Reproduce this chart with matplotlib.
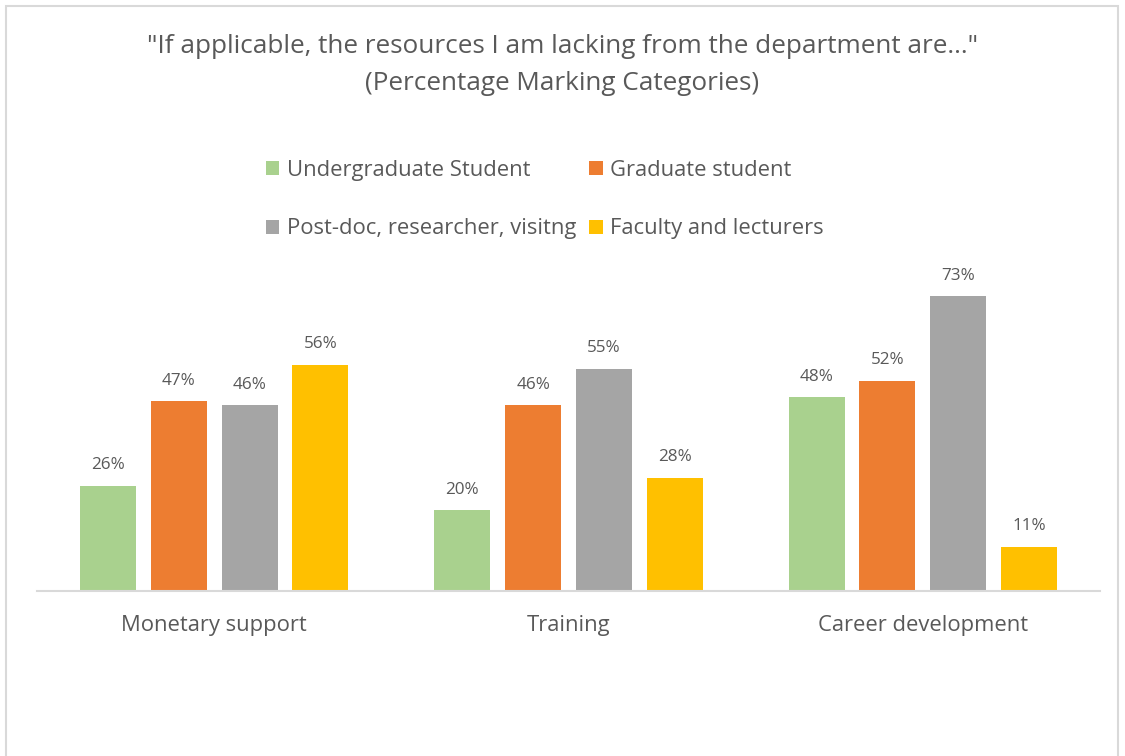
import matplotlib.pyplot as plt
import numpy as np
from matplotlib.patches import Rectangle

plt.rcParams['font.family'] = ['Open Sans', 'DejaVu Sans']

categories = ['Monetary support', 'Training', 'Career development']
groups = ['Undergraduate Student', 'Graduate student',
          'Post-doc, researcher, visitng', 'Faculty and lecturers']
undergrad = [26, 20, 48]
graduate = [47, 46, 52]
postdoc = [46, 55, 73]
faculty = [56, 28, 11]
colors = ['#a9d18e', '#ed7d31', '#a5a5a5', '#ffc000']

text_color = '#595959'

fig = plt.figure(figsize=(11.25, 7.56), dpi=100)

# chart frame
fig.patches.append(Rectangle((6 / 1125, -0.1), 1112 / 1125, 1.1 - 6 / 756,
                             transform=fig.transFigure, fill=False,
                             edgecolor='#d9d9d9', linewidth=1.5))

ax = fig.add_axes([37 / 1125, (756 - 591) / 756, 1063 / 1125, (591 - 280) / 756])

x = np.arange(len(categories))
width = 0.158
step = 0.2
series = [undergrad, graduate, postdoc, faculty]
bars = []
for i, (vals, col) in enumerate(zip(series, colors)):
    b = ax.bar(x + (i - 1.5) * step, vals, width, color=col, label=groups[i])
    bars.append(b)
    for rect, v in zip(b, vals):
        ax.annotate(f'{v}%', (rect.get_x() + rect.get_width() / 2, v),
                    xytext=(0, 9), textcoords='offset points',
                    ha='center', va='bottom', fontsize=12.3, color=text_color)

ax.set_xlim(-0.5, 2.5)
ax.set_ylim(0, 77)
ax.set_yticks([])
for s in ['top', 'right', 'left']:
    ax.spines[s].set_visible(False)
ax.spines['bottom'].set_color('#d9d9d9')
ax.spines['bottom'].set_linewidth(1.5)
ax.set_xticks(x)
ax.set_xticklabels(categories, fontsize=15.8, color=text_color)
ax.tick_params(axis='x', length=0, pad=17)

fig.text(0.5, 1 - 65 / 756,
         '"If applicable, the resources I am lacking from the department are..."\n(Percentage Marking Categories)',
         ha='center', va='center', fontsize=18.8, color=text_color, linespacing=1.68)

order = [0, 2, 1, 3]
leg = fig.legend([bars[i] for i in order], [groups[i] for i in order],
                 ncol=2, loc='center', bbox_to_anchor=(545 / 1125, 1 - 199.5 / 756),
                 frameon=False, fontsize=15.8, handlelength=0.6, handleheight=0.6,
                 handletextpad=0.35, columnspacing=0.6, labelspacing=1.72)
for t in leg.get_texts():
    t.set_color(text_color)

fig.savefig('out.png', dpi=100)
